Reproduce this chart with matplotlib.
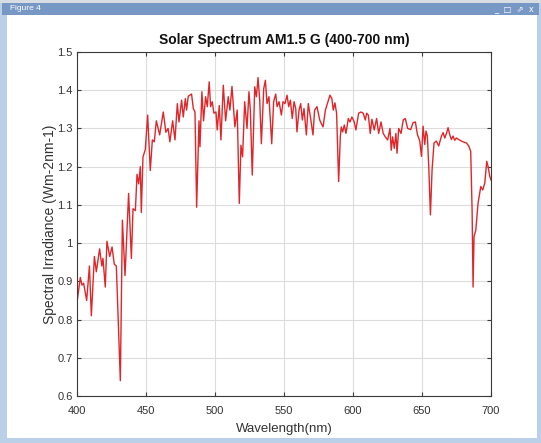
import matplotlib
matplotlib.use("Agg")
import matplotlib.pyplot as plt
from matplotlib.patches import Rectangle
from matplotlib.ticker import FuncFormatter

wavelength = [400, 402.4, 403.6, 404.8, 407, 409, 410.4, 412.6, 414, 416.4, 418, 418.8, 420.5, 421.7,
              423.7, 425.4, 427, 428.5, 431.4, 432.9, 434.8, 437.4, 439.4, 440.6, 442.3, 443.5, 444.7,
              445.9, 446.6, 447.8, 449.5, 451.2, 453.1, 454.6, 456, 457.5, 459.9,
              462.5, 464.4, 466, 467.3, 469.3, 471, 472.7, 473.9, 475.8, 477, 478.5, 479.4, 480.6,
              483, 484.3, 485.5, 486.7, 488.4, 489.1, 490.5, 491.7, 493.2, 494.4, 495.8, 496.8, 498,
              499.2, 500.7, 501.6, 503.1, 504.3, 506, 507.7, 509.6, 510.8, 512.3, 514.4, 516.1, 517.6,
              518.8, 520, 521.5, 523.2, 524.6, 525.6, 527, 528.8, 530, 531.2, 532.4, 533.6, 535.3,
              536.5, 537.7, 539.1, 541.1, 542.5, 544, 545, 546.4, 548.1, 549.3, 550.7, 552.2, 553.4,
              554.6, 556, 557.3, 558.5, 559.4, 560.9, 562.1, 563.3, 564.5, 566.2, 567.6, 569.3, 571,
              572.2, 573.9, 575.9, 577, 578.3, 580, 581.9, 583.3, 584.7, 585.7, 586.9, 588.1, 589.6,
              590.8, 591.5, 592.5, 593.7, 594.9, 596.6, 597.8, 599.2, 600.9, 602.1, 604.1, 605.8,
              607.4, 608.9, 609.9, 611.1, 612.5, 613.7, 615.4, 617.1, 618.6, 620.3, 621.9, 623.4,
              625.1, 626.8, 627.7, 628.7, 629.9, 631.1, 631.9, 633.1, 634.8, 636.4, 637.9, 639.6,
              641.8, 643.5, 645.2, 646.7, 648.4, 649.6, 650.8, 652, 652.9, 653.9, 654.9, 656.1, 657.3,
              658.7, 660.4, 662.1, 664.1, 665.3, 666.5, 667.9, 668.9, 670.1, 671.3, 672.5, 673.7,
              674.9, 676.6, 678.5, 680.5, 682.2, 683.9, 685.3, 686.3, 687, 687.7, 689, 690.6, 692.6,
              694, 695.5, 696.9, 697.9, 699.1, 700]
irradiance = [0.845, 0.91, 0.89, 0.895, 0.85, 0.94, 0.81, 0.965, 0.925, 0.985, 0.94, 0.96, 0.885, 1.005,
              0.965, 0.99, 0.945, 0.94, 0.64, 1.06, 0.915, 1.13, 0.96, 1.09, 1.085, 1.18, 1.155,
              1.2, 1.08, 1.225, 1.245, 1.335, 1.19, 1.27, 1.265, 1.32, 1.283,
              1.343, 1.29, 1.3, 1.265, 1.32, 1.27, 1.365, 1.317, 1.374, 1.33, 1.378, 1.348, 1.384,
              1.39, 1.352, 1.343, 1.094, 1.32, 1.252, 1.396, 1.32, 1.383, 1.357, 1.422, 1.357, 1.37,
              1.34, 1.343, 1.296, 1.36, 1.27, 1.413, 1.32, 1.383, 1.348, 1.41, 1.304, 1.348, 1.104,
              1.256, 1.226, 1.37, 1.3, 1.396, 1.348, 1.178, 1.409, 1.383, 1.433, 1.374, 1.26, 1.404,
              1.426, 1.365, 1.383, 1.26, 1.37, 1.39, 1.357, 1.37, 1.335, 1.37, 1.365, 1.387, 1.357,
              1.374, 1.326, 1.37, 1.352, 1.291, 1.348, 1.365, 1.322, 1.352, 1.283, 1.365, 1.326, 1.283,
              1.348, 1.357, 1.322, 1.313, 1.304, 1.348, 1.37, 1.387, 1.378, 1.348, 1.367, 1.34, 1.161,
              1.278, 1.304, 1.291, 1.309, 1.287, 1.326, 1.317, 1.33, 1.317, 1.296, 1.34, 1.343,
              1.34, 1.322, 1.34, 1.335, 1.287, 1.324, 1.296, 1.326, 1.287, 1.317, 1.287, 1.278,
              1.27, 1.3, 1.243, 1.278, 1.248, 1.287, 1.235, 1.3, 1.287, 1.322, 1.326, 1.3,
              1.297, 1.315, 1.317, 1.284, 1.267, 1.227, 1.306, 1.258, 1.293, 1.28, 1.2, 1.074, 1.192,
              1.262, 1.267, 1.254, 1.28, 1.289, 1.275, 1.289, 1.302, 1.284, 1.271, 1.28, 1.269,
              1.275, 1.271, 1.267, 1.264, 1.262, 1.254, 1.24, 1.087, 0.885, 1.017, 1.034, 1.104, 1.148,
              1.139, 1.157, 1.214, 1.2, 1.175, 1.165]

x_ticks = [400, 450, 500, 550, 600, 650, 700]
y_ticks = [0.6, 0.7, 0.8, 0.9, 1.0, 1.1, 1.2, 1.3, 1.4, 1.5]

W, H = 541, 443
fig = plt.figure(figsize=(W / 100, H / 100), dpi=100)
fig.patch.set_facecolor("#b9d0e8")

def px_rect(x0, y0, x1, y1, color):
    fig.patches.append(Rectangle((x0 / W, 1 - y1 / H), (x1 - x0) / W, (y1 - y0) / H,
                                 transform=fig.transFigure, facecolor=color,
                                 edgecolor="none", zorder=-10))

px_rect(0, 0, W, 3, "#d8dde4")
px_rect(2, 3, W - 2, 15, "#7797c4")
px_rect(7, 15, W - 4, 438, "white")
fig.text(10 / W, 1 - 8.5 / H, "Figure 4", color="white", fontsize=6,
         family="Liberation Sans", va="center", ha="left")
fig.text(534 / W, 1 - 8.5 / H, "_  \u25a1  \u21d7  x", color="white", fontsize=6,
         family="DejaVu Sans", va="center", ha="right")

ax = fig.add_axes([77 / W, 1 - 396 / H, 414 / W, 344 / H])
ax.set_zorder(5)
ax.plot(wavelength, irradiance, color="#e0262a", linewidth=1.0)
ax.set_xlim(400, 700)
ax.set_ylim(0.6, 1.5)
ax.set_xticks(x_ticks)
ax.set_yticks(y_ticks)
ax.yaxis.set_major_formatter(FuncFormatter(lambda v, p: ("%g" % round(v, 2))))
ax.grid(True, color="#dcdcdc", linewidth=0.8)
ax.set_axisbelow(True)
for s in ax.spines.values():
    s.set_color("#3a3a3a")
    s.set_linewidth(0.8)
ax.tick_params(direction="in", length=3, width=0.8, top=True, right=True,
               colors="#3a3a3a", labelsize=8, labelcolor="#333333")
ax.tick_params(axis="x", pad=7)
ax.tick_params(axis="y", pad=3)
for lab in ax.get_xticklabels() + ax.get_yticklabels():
    lab.set_family("Liberation Sans")

ax.set_title("Solar Spectrum AM1.5 G (400-700 nm)", fontsize=10, fontweight="bold",
             family="Liberation Sans", color="#111111", pad=6)
ax.set_xlabel("Wavelength(nm)", fontsize=9.5, family="Liberation Sans", color="#333333", labelpad=5)
ax.set_ylabel("Spectral Irradiance (Wm-2nm-1)", fontsize=10, family="Liberation Sans",
              color="#333333", labelpad=0)

fig.savefig("out.png", dpi=100)
